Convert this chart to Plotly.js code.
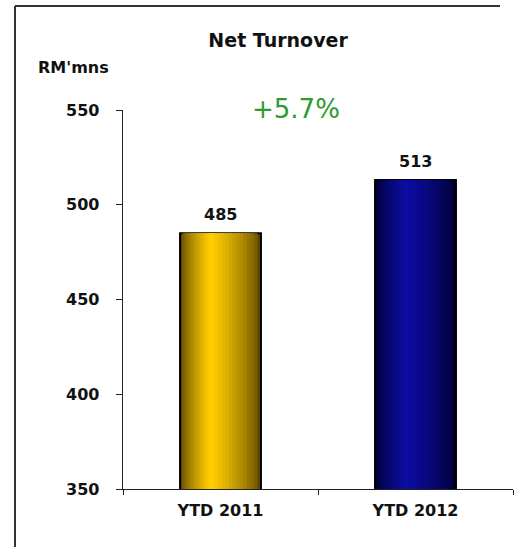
<!DOCTYPE html>
<html>
<head>
<meta charset="utf-8">
<script src="https://cdn.plot.ly/plotly-3.0.1.min.js"></script>
<style>
html,body{margin:0;padding:0;background:#fff;overflow:hidden;}
#chart{width:515px;height:547px;}
</style>
</head>
<body>
<div id="chart"></div>
<script>
// ---- data ----
const categories = ["YTD 2011", "YTD 2012"];
const values = [485, 513];
const yTickVals = [350, 400, 450, 500, 550];
const chartTitle = "Net Turnover";
const unitLabel = "RM'mns";
const growthLabel = "+5.7%";

// ---- styling helpers ----
const edgeColors = [[95, 72, 0], [0, 0, 50]];
const centerColors = [[255, 204, 0], [12, 12, 160]];
function lerp(a, b, t) { return a.map((v, i) => Math.round(v + (b[i] - v) * t)); }
function rgb(c) { return "rgb(" + c.join(",") + ")"; }

const W = 0.415;      // bar width (category units)
const N = 14;         // shading layers
const hi = 0.38;      // highlight position across the bar
const traces = [];
for (let k = 0; k < N; k++) {
  const f = k / N;
  const a = hi * f;
  const b = hi + (1 - hi) * (1 - f);
  const t = Math.pow(k / (N - 1), 0.7);
  traces.push({
    type: "bar",
    x: categories,
    y: values,
    base: 0,
    offset: -W / 2 + W * a,
    width: W * (b - a),
    marker: {
      color: categories.map((_, i) => rgb(lerp(edgeColors[i], centerColors[i], t))),
      line: { width: k === 0 ? 2 : 0, color: "#000" }
    },
    hoverinfo: "skip",
    showlegend: false
  });
}

const annotations = categories.map((c, i) => ({
  x: c, y: values[i], xref: "x", yref: "y",
  text: String(values[i]), showarrow: false,
  yanchor: "bottom", yshift: 7,
  font: { family: "DejaVu Sans", size: 16, color: "#111", weight: "bold" }
}));
annotations.push({
  xref: "paper", yref: "paper", x: -0.128, y: 1.113,
  text: unitLabel, showarrow: false, xanchor: "center", yanchor: "middle",
  font: { family: "DejaVu Sans", size: 16, color: "#111", weight: "bold" }
});
annotations.push({
  xref: "paper", yref: "paper", x: 0.4436, y: 1.0026,
  text: growthLabel, showarrow: false, xanchor: "center", yanchor: "middle",
  font: { family: "DejaVu Sans", size: 26, color: "#2f9a2f" }
});

// frame (left and top edges only; right/bottom lie outside the picture)
const px = v => (v - 123) / 390;
const py = v => (489 - v) / 379;
const frameLine = { color: "#333", width: 2 };
const shapes = [
  { type: "line", xref: "paper", yref: "paper", x0: px(15), x1: px(15), y0: py(560), y1: py(6), line: frameLine, layer: "above" },
  { type: "line", xref: "paper", yref: "paper", x0: px(15), x1: px(500), y0: py(6), y1: py(6), line: frameLine, layer: "above" }
];

const layout = {
  width: 515, height: 547,
  margin: { l: 123, r: 2, t: 110, b: 58 },
  paper_bgcolor: "#fff", plot_bgcolor: "#fff",
  barmode: "overlay",
  title: {
    text: chartTitle, xref: "container", yref: "container",
    x: 0.54, xanchor: "center", y: 1 - 40 / 547, yanchor: "middle",
    font: { family: "DejaVu Sans", size: 19, color: "#111", weight: "bold" }
  },
  xaxis: {
    type: "category", range: [-0.5, 1.5],
    showline: true, linecolor: "#222", linewidth: 1.3,
    ticks: "outside", tickson: "boundaries", ticklen: 5, tickcolor: "#222",
    showgrid: false, zeroline: false,
    ticklabelstandoff: 6,
    tickfont: { family: "DejaVu Sans", size: 16, color: "#111", weight: "bold" }
  },
  yaxis: {
    range: [350, 550], tickvals: yTickVals,
    showline: true, linecolor: "#222", linewidth: 1.3,
    ticks: "outside", ticklen: 6, tickcolor: "#222",
    showgrid: false, zeroline: false,
    ticklabelstandoff: 13,
    tickfont: { family: "DejaVu Sans", size: 16, color: "#111", weight: "bold" }
  },
  annotations: annotations,
  shapes: shapes
};

Plotly.newPlot("chart", traces, layout, { displayModeBar: false, staticPlot: true });
</script>
</body>
</html>
